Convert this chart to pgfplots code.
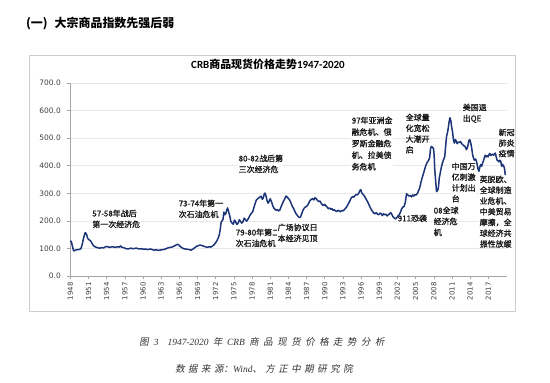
\documentclass[border=0pt]{standalone}
\usepackage{pgfplots}
\pgfplotsset{compat=1.18}
\usepackage{fontspec}
\setmainfont{DejaVu Sans}
\newfontfamily\cjk{Noto Sans CJK SC}
\newfontfamily\cjka[FakeBold=1.2]{Noto Sans CJK SC}
\newfontfamily\cjksl[FakeSlant=0.18]{Noto Sans CJK SC}
\newfontfamily\carlito{Carlito}
\newfontfamily\timesf{Liberation Serif}
\definecolor{navy}{RGB}{28,52,120}
\definecolor{gridc}{RGB}{232,232,232}
\definecolor{axc}{RGB}{165,165,165}
\definecolor{boxc}{RGB}{205,205,205}
\def\sp{\hspace{4.5bp}}
\def\sq{\hspace{3.5bp}}
\tikzset{anno/.style={anchor=north west, align=left, font=\cjka\fontsize{8}{11}\selectfont, text=black!90, fill=white, inner sep=0.5bp}}
\begin{document}
\begin{tikzpicture}[x=1bp,y=1bp]
\useasboundingbox (0,0) rectangle (550,382);
\fill[white] (0,0) rectangle (550,382);
\draw[boxc, line width=0.8bp] (29,71) rectangle (515,327);
\node[anchor=west, inner sep=0pt, font=\cjk\bfseries\fontsize{12}{14}\selectfont] at (26,358) {(一)\hspace{7bp}大宗商品指数先强后弱};
\node[inner sep=0pt, font=\fontsize{11}{13}\selectfont] at (268,317.5) {{\carlito\bfseries CRB}{\cjk\bfseries 商品现货价格走势}{\carlito\bfseries 1947-2020}};
\begin{axis}[
  at={(70.3bp,106bp)}, anchor=south west,
  scale only axis, width=436.2bp, height=193bp,
  xmin=1948, xmax=2020, ymin=0, ymax=700,
  axis x line*=bottom, axis y line*=left,
  axis line style={axc, line width=0.6bp, -},
  xtick={1948,1951,...,2017},
  ytick={0,100,...,700},
  ymajorgrids, grid style={gridc, line width=0.6bp},
  tick align=outside, major tick length=3bp,
  tick style={axc, line width=0.6bp},
  tick label style={text=black!75},
  x tick label style={rotate=90, anchor=east, font=\fontsize{7}{8}\selectfont},
  y tick label style={font=\fontsize{7.5}{8}\selectfont, xshift=-3bp},
  /pgf/number format/assume math mode=true,
  /pgf/number format/1000 sep={},
  yticklabel style={/pgf/number format/fixed, /pgf/number format/fixed zerofill, /pgf/number format/precision=1},
  clip=false,
]
\node[anno] at (axis cs:1951.53,243.0) {57-58年战后\\第一次经济危};
\node[anno] at (axis cs:1965.78,279.3) {73-74年第一\\次石油危机};
\node[anno] at (axis cs:1975.19,174.1) {79-80年第二\\次石油危机};
\node[anno] at (axis cs:1975.68,442.5) {80-82战后第\\三次经济危};
\node[anno] at (axis cs:1982.12,192.2) {广场协议日\\本经济见顶};
\node[anno, font=\cjka\fontsize{8}{11.6}\selectfont] at (axis cs:1994.34,580.3) {97年亚洲金\\融危机、俄\\罗斯金融危\\机、拉美债\\务危机};
\node[anno, font=\cjka\fontsize{8}{10.8}\selectfont] at (axis cs:2003.25,591.2) {全球量\\化宽松\\大潮开\\启};
\node[anno] at (axis cs:2001.93,224.9) {911恐袭};
\node[anno, font=\cjka\fontsize{8}{10.8}\selectfont] at (axis cs:2010.84,413.5) {中国万\\亿刺激\\计划出\\台};
\node[anno] at (axis cs:2007.87,253.9) {08全球\\经济危\\机};
\node[anno] at (axis cs:2012.66,627.5) {美国退\\出QE};
\node[anno, font=\cjka\fontsize{8}{10.6}\selectfont] at (axis cs:2018.6,536.8) {新冠\\肺炎\\疫情};
\node[anno, font=\cjka\fontsize{8}{10.8}\selectfont] at (axis cs:2015.46,366.3) {英脱欧、\\全球制造\\业危机、\\中美贸易\\摩擦，全\\球经济共\\振性放缓};
\addplot[navy, line width=1.5bp, no markers, line join=round] table {
x y
1948.00 128
1948.10 126
1948.20 122
1948.35 108
1948.50 95
1948.60 91
1948.75 93
1948.90 94
1949.10 96
1949.30 95
1949.50 97
1949.70 98
1949.85 105
1950.00 118
1950.15 133
1950.30 147
1950.45 157
1950.55 156
1950.70 150
1950.85 138
1951.00 133
1951.20 130
1951.40 126
1951.60 118
1951.80 111
1952.00 107
1952.30 104
1952.60 102
1952.90 101
1953.20 103
1953.50 102
1953.80 106
1954.00 107
1954.30 105
1954.60 104
1954.90 106
1955.20 105
1955.50 104
1955.80 106
1956.10 105
1956.30 109
1956.50 104
1956.80 103
1957.10 100
1957.40 98
1957.70 99
1958.00 101
1958.30 99
1958.60 100
1958.90 101
1959.20 99
1959.50 98
1959.80 99
1960.10 97
1960.40 98
1960.70 96
1961.00 97
1961.30 98
1961.60 95
1961.90 94
1962.20 95
1962.50 93
1962.80 94
1963.10 95
1963.40 96
1963.70 98
1964.00 101
1964.30 103
1964.60 104
1964.90 106
1965.20 109
1965.50 113
1965.70 115
1965.90 113
1966.10 108
1966.40 103
1966.70 99
1967.00 98
1967.30 97
1967.60 96
1967.90 94
1968.20 97
1968.50 102
1968.80 107
1969.10 110
1969.40 112
1969.70 111
1970.00 108
1970.30 106
1970.60 104
1970.90 106
1971.20 105
1971.50 109
1971.80 115
1972.00 121
1972.20 128
1972.40 137
1972.60 150
1972.75 170
1972.90 195
1973.05 200
1973.20 205
1973.35 232
1973.50 222
1973.65 225
1973.80 238
1973.95 247
1974.05 240
1974.20 228
1974.35 215
1974.50 198
1974.70 192
1974.90 188
1975.10 203
1975.30 196
1975.50 187
1975.70 192
1975.90 204
1976.10 198
1976.30 192
1976.50 197
1976.70 210
1976.90 204
1977.10 199
1977.30 205
1977.50 213
1977.70 222
1977.90 228
1978.10 232
1978.30 248
1978.50 262
1978.70 275
1978.90 280
1979.10 283
1979.30 287
1979.50 289
1979.70 278
1979.85 283
1980.00 297
1980.15 301
1980.30 290
1980.50 272
1980.65 264
1980.80 270
1981.00 280
1981.20 270
1981.40 256
1981.60 246
1981.80 242
1982.00 238
1982.20 241
1982.40 236
1982.60 240
1982.80 252
1983.00 262
1983.20 272
1983.40 280
1983.60 290
1983.80 286
1984.00 281
1984.20 276
1984.40 266
1984.60 255
1984.80 247
1985.00 238
1985.20 228
1985.40 222
1985.60 216
1985.80 212
1986.00 214
1986.20 226
1986.40 238
1986.60 246
1986.80 250
1987.00 252
1987.20 258
1987.40 266
1987.60 275
1987.80 278
1988.00 281
1988.20 276
1988.40 284
1988.60 280
1988.80 274
1989.00 270
1989.20 272
1989.40 264
1989.60 258
1989.80 256
1990.00 260
1990.20 254
1990.40 250
1990.60 244
1990.80 247
1991.00 242
1991.20 244
1991.40 238
1991.60 240
1991.80 236
1992.00 234
1992.20 238
1992.40 236
1992.60 233
1992.80 238
1993.00 236
1993.20 240
1993.40 245
1993.60 250
1993.80 258
1994.00 266
1994.20 275
1994.40 284
1994.60 288
1994.80 286
1995.00 292
1995.20 296
1995.40 294
1995.60 300
1995.80 310
1995.95 313
1996.10 302
1996.30 296
1996.50 292
1996.70 284
1996.90 276
1997.10 268
1997.30 258
1997.50 249
1997.70 240
1997.90 234
1998.10 228
1998.30 226
1998.50 230
1998.70 224
1998.90 222
1999.10 228
1999.30 226
1999.50 219
1999.70 226
1999.90 222
2000.10 224
2000.30 218
2000.50 222
2000.70 226
2000.90 230
2001.10 222
2001.30 214
2001.50 210
2001.70 207
2001.90 212
2002.10 218
2002.30 222
2002.50 232
2002.70 244
2002.90 250
2003.10 252
2003.30 268
2003.50 298
2003.70 294
2003.90 290
2004.10 292
2004.30 287
2004.50 294
2004.70 290
2004.90 295
2005.10 294
2005.30 300
2005.50 310
2005.70 322
2005.90 342
2006.10 358
2006.30 372
2006.50 388
2006.70 402
2006.90 412
2007.10 418
2007.30 428
2007.45 460
2007.60 470
2007.80 466
2007.95 462
2008.05 440
2008.15 390
2008.30 345
2008.45 306
2008.60 310
2008.75 318
2008.90 355
2009.05 372
2009.20 390
2009.40 408
2009.60 422
2009.80 432
2009.95 470
2010.10 505
2010.30 525
2010.50 555
2010.65 574
2010.80 565
2010.95 540
2011.10 522
2011.25 492
2011.40 482
2011.55 495
2011.70 490
2011.85 480
2012.00 486
2012.20 484
2012.40 488
2012.60 480
2012.80 476
2013.00 472
2013.20 468
2013.40 458
2013.60 470
2013.80 492
2013.95 494
2014.10 482
2014.25 465
2014.40 440
2014.55 428
2014.70 420
2014.85 424
2015.00 420
2015.15 405
2015.30 388
2015.45 380
2015.60 396
2015.75 404
2015.90 398
2016.05 410
2016.20 418
2016.35 430
2016.50 438
2016.65 432
2016.80 436
2016.95 432
2017.10 440
2017.25 444
2017.40 437
2017.55 440
2017.70 442
2017.85 438
2018.00 442
2018.15 446
2018.30 432
2018.45 420
2018.60 418
2018.75 414
2018.90 420
2019.05 416
2019.20 398
2019.35 405
2019.50 400
2019.65 392
2019.80 366
};
\end{axis}
\node[inner sep=0pt, text=black!80] at (262,40) {\fontsize{9.5}{11}\selectfont{\cjksl 图}\hspace{5bp}{\timesf\itshape 3}\hspace{9bp}{\timesf\itshape 1947-2020}\sp{\cjksl 年}\sp{\timesf\itshape CRB}\sp{\cjksl 商\sp 品\sp 现\sp 货\sp 价\sp 格\sp 走\sp 势\sp 分\sp 析}};
\node[inner sep=0pt, text=black!80] at (264,13) {\fontsize{9.5}{11}\selectfont{\cjksl 数\sq 据\sq 来\sq 源：}{\timesf\itshape Wind}{\cjksl 、\sq 方\sq 正\sq 中\sq 期\sq 研\sq 究\sq 院}};
\end{tikzpicture}
\end{document}
